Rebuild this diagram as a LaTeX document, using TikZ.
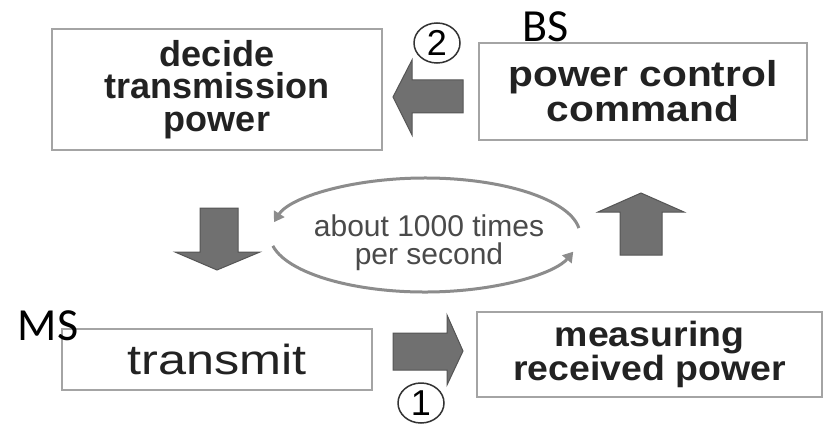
\documentclass[tikz,border=0pt]{standalone}
\usepackage{fontspec}
\setmainfont{Liberation Sans}
\newfontfamily\tagfont{Carlito}
\newfontfamily\plainsans{Liberation Sans}
\newfontfamily\widesans[FakeStretch=1.13]{Liberation Sans}
\newfontfamily\widersans[FakeStretch=1.2]{Liberation Sans}
\newfontfamily\slightsans[FakeStretch=1.07]{Liberation Sans}
\usetikzlibrary{shapes.geometric,arrows.meta}

\definecolor{boxline}{HTML}{A4A4A4}
\definecolor{blockfill}{HTML}{707070}
\definecolor{blockline}{HTML}{555555}
\definecolor{loopline}{HTML}{8C8C8C}
\definecolor{looptext}{HTML}{4A4A4A}
\definecolor{boxtext}{HTML}{222222}

\tikzset{
  stagebox/.style={draw=boxline, line width=2pt, fill=white, inner sep=0pt,
    align=center, text=boxtext},
  blockarrow/.style={fill=blockfill, draw=blockline, line width=1pt, line join=miter},
  loopstroke/.style={draw=loopline, line width=3pt,
    -{Triangle[length=10pt,width=12pt]}},
  numtag/.style={ellipse, draw=black!80, line width=1.5pt, inner sep=0pt,
    minimum width=46pt, minimum height=40pt,
    font=\plainsans\fontsize{36}{36}\selectfont},
  sidelabel/.style={font=\tagfont\fontsize{46}{46}\selectfont, anchor=base, inner sep=0pt}
}

\begin{document}
\begin{tikzpicture}[x=1pt, y=-1pt]
  \useasboundingbox (0,0) rectangle (827,425);
  \fill[white] (0,0) rectangle (827,425);

  % the four stages of the loop
  \node[stagebox, minimum width=330pt, minimum height=121pt,
        font=\plainsans\bfseries\fontsize{36}{32.5}\selectfont]
    (decide) at (217,89.5) {decide\\transmission\\power};
  \node[stagebox, minimum width=328pt, minimum height=97pt,
        font=\widesans\bfseries\fontsize{36}{35}\selectfont]
    (command) at (643,91.5) {power control\\command};
  \node[stagebox, minimum width=310pt, minimum height=61pt,
        font=\widersans\fontsize{42}{42}\selectfont]
    (transmit) at (217,359.5) {transmit};
  \node[stagebox, minimum width=345pt, minimum height=85pt,
        font=\slightsans\bfseries\fontsize{35}{32}\selectfont]
    (measure) at (649.5,354.5) {measuring\\received power};

  % station labels
  \node[sidelabel] (bs) at (545.5,42) {BS};
  \node[sidelabel] (ms) at (48,340) {MS};

  % block arrows between the stages
  \draw[blockarrow] (393,333) -- (447,333) -- (447,315) -- (463,351)
    -- (447,385) -- (447,370) -- (393,370) -- cycle;
  \draw[blockarrow] (463,80) -- (412,80) -- (412,60) -- (393,97)
    -- (412,135) -- (412,113) -- (463,113) -- cycle;
  \draw[blockarrow] (200,208) -- (238,208) -- (238,252) -- (260,252)
    -- (217,270) -- (175,252) -- (200,252) -- cycle;
  \draw[blockarrow] (620,255) -- (662,255) -- (662,212) -- (684,212)
    -- (641,193) -- (598,212) -- (620,212) -- cycle;

  % step numbers
  \node[numtag] (step2) at (437,43) {2};
  \node[numtag] (step1) at (421,403) {1};

  % repetition loop
  \coordinate (loopc) at (425,235);
  \draw[loopstroke] (loopc) ++(-7:155 and 57)
    arc[start angle=-7, end angle=-167, x radius=155, y radius=57];
  \draw[loopstroke] (loopc) ++(-191:155 and 57)
    arc[start angle=-191, end angle=-343, x radius=155, y radius=57];
  \node[align=center, text=looptext, inner sep=0pt,
        font=\plainsans\fontsize{30}{28}\selectfont]
    (rate) at (429,243) {about 1000 times\\per second};
\end{tikzpicture}
\end{document}
